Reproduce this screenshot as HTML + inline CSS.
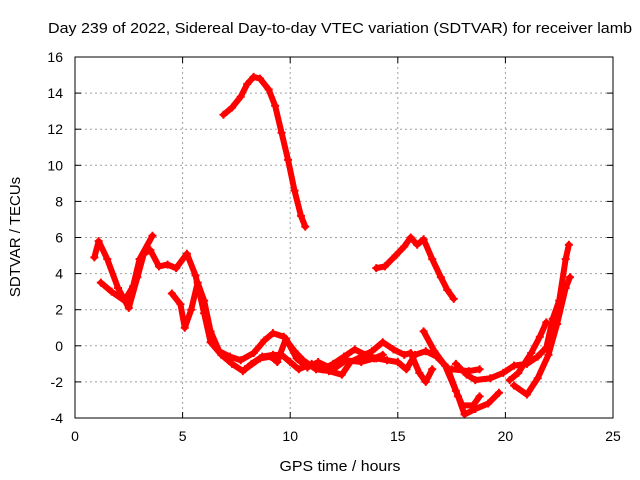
<!DOCTYPE html>
<html><head><meta charset="utf-8"><style>
body{margin:0;background:#fff}
svg{display:block;font-family:"Liberation Sans",sans-serif}
</style></head><body>
<svg id="chart" width="640" height="480">
<rect width="640" height="480" fill="#fff"/>
<text x="48" y="33" font-size="15" textLength="584" lengthAdjust="spacingAndGlyphs">Day 239 of 2022, Sidereal Day-to-day VTEC variation (SDTVAR) for receiver lamb</text>
<g id="grid"></g>
<g id="series"></g>
<rect x="75" y="57" width="538" height="361" fill="none" stroke="#000"/>
<g id="ticks"></g>
<text x="340" y="471" font-size="15" textLength="121" lengthAdjust="spacingAndGlyphs" text-anchor="middle">GPS time / hours</text>
<text transform="translate(20,237) rotate(-90)" font-size="15" text-anchor="middle">SDTVAR / TECUs</text>
</svg>
<script>
const xTicks=[0,5,10,15,20,25];
const yTicks=[-4,-2,0,2,4,6,8,10,12,14,16];
const peakTrace=[[6.9,12.8],[7.3,13.2],[7.7,13.8],[8.0,14.5],[8.3,14.9],[8.6,14.8],[9.0,14.2],[9.3,13.3],[9.6,11.8],[9.9,10.3],[10.2,8.6],[10.5,7.2],[10.7,6.6]];
const midTrace=[[14.0,4.3],[14.4,4.4],[14.9,5.0],[15.3,5.5],[15.6,6.0],[15.9,5.6],[16.2,5.9],[16.6,4.8],[17.0,3.8],[17.3,3.1],[17.6,2.6]];
const traceA=[[0.9,4.9],[1.1,5.8],[1.5,4.8],[2.0,3.2],[2.5,2.1],[2.9,3.8],[3.2,5.1],[3.5,5.3],[3.9,4.4],[4.3,4.5],[4.7,4.3],[5.2,5.1],[5.6,3.9],[6.0,1.8],[6.3,0.2],[6.8,-0.5],[7.3,-1.0],[7.8,-1.4],[8.2,-1.0],[8.7,-0.6],[9.2,-0.5],[9.6,-0.5],[10.0,-0.9],[10.4,-1.3],[11.0,-1.0],[11.5,-1.3],[12.0,-1.0],[12.5,-0.6],[13.0,-0.2],[13.5,-0.5],[14.0,-0.7],[14.5,-0.8],[15.0,-0.9],[15.4,-1.3],[15.8,-0.5],[16.3,-0.3],[16.8,-0.6],[17.3,-1.2],[17.8,-2.8],[18.1,-3.8],[18.6,-3.5],[19.2,-3.2],[19.7,-2.6]];
const traceB=[[1.2,3.5],[1.7,3.0],[2.3,2.5],[2.7,3.3],[3.0,4.8],[3.6,6.1]];
const traceC=[[4.5,2.9],[4.9,2.3],[5.1,1.0],[5.4,2.0],[5.7,3.5],[6.0,2.5],[6.3,0.8],[6.7,-0.3],[7.2,-0.6],[7.7,-0.8],[8.3,-0.4],[8.8,0.3],[9.2,0.7],[9.7,0.5],[10.2,-0.3],[10.6,-0.8],[11.2,-1.3],[11.8,-1.4],[12.4,-1.6],[12.8,-0.9],[13.3,-0.6],[13.8,-0.3],[14.3,0.2],[14.8,-0.2],[15.3,-0.5],[15.6,-0.4],[16.0,-1.5],[16.3,-2.0],[16.6,-1.3]];
const traceD=[[16.2,0.8],[16.7,-0.3],[17.2,-1.1],[17.7,-2.5],[18.0,-3.3],[18.5,-3.3],[18.8,-2.8]];
const traceE=[[17.5,-1.3],[18.3,-1.4],[18.8,-1.3]];
const traceF=[[17.7,-1.0],[18.2,-1.6],[18.6,-1.9],[19.3,-1.8],[19.9,-1.5],[20.4,-1.1],[21.0,-1.0],[21.5,-0.6],[21.9,-0.1],[22.2,1.5],[22.5,2.5],[22.8,4.8],[22.95,5.6]];
const traceG=[[20.2,-1.9],[20.6,-1.5],[21.2,-0.4],[21.6,0.5],[21.9,1.3]];
const traceH=[[20.4,-2.2],[21.0,-2.7],[21.5,-1.8],[22.0,-0.5],[22.4,1.2],[22.8,3.2],[23.0,3.8]];
const traceI=[[7.9,-1.3],[8.6,-0.7],[9.1,-0.6],[9.4,-0.9],[9.8,0.4],[10.3,-0.7],[10.8,-1.2],[11.3,-0.9],[12.0,-1.3],[12.6,-0.8],[13.3,-0.9],[13.9,-0.7],[14.3,-0.5]];
const NS="http://www.w3.org/2000/svg";
const X0=75,X1=613,Y0=418,Y1=57;
function sx(v){return X0+(v-0)/(25-0)*(X1-X0);}
function sy(v){return Y0-(v+4)/(16+4)*(Y0-Y1);}
const grid=document.getElementById('grid'),ticks=document.getElementById('ticks'),ser=document.getElementById('series');
function mk(tag,attrs,parent){const e=document.createElementNS(NS,tag);for(const k in attrs)e.setAttribute(k,attrs[k]);parent.appendChild(e);return e;}
xTicks.forEach(t=>{const x=sx(t);
 if(t>0&&t<25){const g=mk('line',{x1:x,x2:x,y1:Y1,y2:Y0,stroke:'#a0a0a0','stroke-dasharray':'2,3'},grid);
 
 }
 mk('line',{x1:x,x2:x,y1:Y0,y2:Y0-6,stroke:'#000'},ticks);
 mk('line',{x1:x,x2:x,y1:Y1,y2:Y1+6,stroke:'#000'},ticks);
 const l=mk('text',{x:x,y:Y0+23,'font-size':14,'text-anchor':'middle'},ticks);l.textContent=t;
 
 });
yTicks.forEach(t=>{const y=sy(t);
 if(t>-4&&t<16){const g=mk('line',{x1:X0,x2:X1,y1:y,y2:y,stroke:'#a0a0a0','stroke-dasharray':'2,3'},grid);
 
 }
 mk('line',{x1:X0,x2:X0+6,y1:y,y2:y,stroke:'#000'},ticks);
 mk('line',{x1:X1,x2:X1-6,y1:y,y2:y,stroke:'#000'},ticks);
 const l=mk('text',{x:X0-12,y:y+5,'font-size':14,'text-anchor':'end'},ticks);l.textContent=t;
 
 });
const traces=[peakTrace,midTrace,traceA,traceB,traceC,traceD,traceE,traceF,traceG,traceH,traceI];
traces.forEach((tr,i)=>{
 const p=mk('polyline',{points:tr.map(d=>sx(d[0])+','+sy(d[1])).join(' '),fill:'none',stroke:'#f00','stroke-width':6,'stroke-linejoin':'round','stroke-linecap':'round'},ser);
 
 
 tr.forEach(d=>{const x=sx(d[0]),y=sy(d[1]);
  mk('path',{d:`M${x-4},${y}H${x+4}M${x},${y-4}V${y+4}`,stroke:'#f00','stroke-width':2},ser);});
});
</script>
</body></html>
